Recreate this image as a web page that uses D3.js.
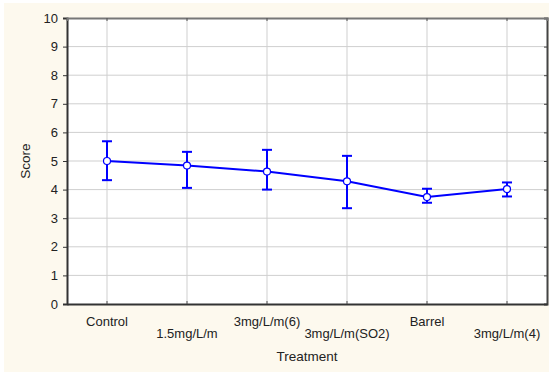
<!DOCTYPE html>
<html>
<head>
<meta charset="utf-8">
<script src="https://cdn.jsdelivr.net/npm/d3@7"></script>
<style>
    body { margin: 0; background: #ffffff; }
    text { font-family: "Liberation Sans", Arial, sans-serif; }
</style>
</head>
<body>
<svg id="chart" width="559" height="372"></svg>
<script>
const treatments = ["Control", "1.5mg/L/m", "3mg/L/m(6)", "3mg/L/m(SO2)", "Barrel", "3mg/L/m(4)"];
const means = [5.0, 4.84, 4.63, 4.29, 3.74, 4.02];
const upper = [5.69, 5.32, 5.39, 5.18, 4.03, 4.25];
const lower = [4.33, 4.06, 4.0, 3.35, 3.54, 3.76];
const yTicks = [0, 1, 2, 3, 4, 5, 6, 7, 8, 9, 10];

const width = 559;
const height = 372;
const margin = { top: 18, right: 12, bottom: 68, left: 67 };

const svg = d3.select("#chart");

// cream background panel
svg.append("rect")
    .attr("x", 4).attr("y", 3)
    .attr("width", 545).attr("height", 369)
    .attr("fill", "#fdf9ee");

const xScale = d3.scaleBand()
    .domain(treatments)
    .range([margin.left, width - margin.right]);

const yScale = d3.scaleLinear()
    .domain([0, 10])
    .range([height - margin.bottom, margin.top]);

const x = function (d) { return xScale(d) + xScale.bandwidth() / 2; };

// plot area
svg.append("rect")
    .attr("x", margin.left)
    .attr("y", margin.top)
    .attr("width", width - margin.right - margin.left)
    .attr("height", height - margin.bottom - margin.top)
    .attr("fill", "#ffffff");

// grid
svg.append("g")
    .selectAll("line")
    .data(yTicks.slice(1, -1))
    .join("line")
    .attr("x1", margin.left).attr("x2", width - margin.right)
    .attr("y1", function (d) { return yScale(d); })
    .attr("y2", function (d) { return yScale(d); })
    .attr("stroke", "#cfcfcf");

svg.append("g")
    .selectAll("line")
    .data(treatments)
    .join("line")
    .attr("x1", x).attr("x2", x)
    .attr("y1", margin.top).attr("y2", height - margin.bottom)
    .attr("stroke", "#cfcfcf");

// left axis
const yAxis = svg.append("g")
    .attr("transform", `translate(${margin.left}, 0)`)
    .call(d3.axisLeft(yScale).tickValues(yTicks).tickSize(4).tickPadding(5));
yAxis.select(".domain").attr("stroke", "#333").attr("stroke-width", 2);
yAxis.selectAll(".tick line").attr("stroke", "#333");
yAxis.selectAll("text").attr("font-size", 13).attr("fill", "#222");

// right axis with inward ticks
const rAxis = svg.append("g")
    .attr("transform", `translate(${width - margin.right}, 0)`)
    .call(d3.axisLeft(yScale).tickValues(yTicks).tickSize(3).tickFormat(""));
rAxis.select(".domain").attr("stroke", "#444").attr("stroke-width", 2);
rAxis.selectAll(".tick line").attr("stroke", "#444");

// top axis with inward ticks
const tAxis = svg.append("g")
    .attr("transform", `translate(0, ${margin.top})`)
    .call(d3.axisBottom(xScale).tickSize(3).tickFormat(""));
tAxis.select(".domain").attr("stroke", "#777").attr("stroke-width", 2);
tAxis.selectAll(".tick line").attr("stroke", "#555");

// bottom axis
const xAxis = svg.append("g")
    .attr("transform", `translate(0, ${height - margin.bottom})`)
    .call(d3.axisBottom(xScale).tickSize(-3).tickSizeOuter(0).tickFormat(""));
xAxis.select(".domain").attr("stroke", "#333").attr("stroke-width", 2);
xAxis.selectAll(".tick line").attr("stroke", "#555");

// staggered category labels
svg.append("g")
    .selectAll("text")
    .data(treatments)
    .join("text")
    .attr("x", x)
    .attr("y", function (d, i) { return i % 2 === 0 ? 326 : 338; })
    .attr("text-anchor", "middle")
    .attr("font-size", 13)
    .attr("fill", "#222")
    .text(function (d) { return d; });

// axis titles
svg.append("text")
    .attr("x", (margin.left + width - margin.right) / 2)
    .attr("y", 361)
    .attr("text-anchor", "middle")
    .attr("font-size", 13.5)
    .attr("fill", "#222")
    .text("Treatment");

svg.append("text")
    .attr("transform", `translate(30, ${yScale(5)}) rotate(-90)`)
    .attr("text-anchor", "middle")
    .attr("font-size", 13.5)
    .attr("fill", "#222")
    .text("Score");

// error bars
const bars = svg.append("g")
    .attr("stroke", "#0000ff")
    .attr("stroke-width", 2);

bars.selectAll(".whisker")
    .data(treatments)
    .join("line")
    .attr("x1", x).attr("x2", x)
    .attr("y1", function (d, i) { return yScale(upper[i]); })
    .attr("y2", function (d, i) { return yScale(lower[i]); });

bars.selectAll(".cap-top")
    .data(treatments)
    .join("line")
    .attr("class", "cap-top")
    .attr("x1", function (d) { return x(d) - 5; })
    .attr("x2", function (d) { return x(d) + 5; })
    .attr("y1", function (d, i) { return yScale(upper[i]); })
    .attr("y2", function (d, i) { return yScale(upper[i]); });

bars.selectAll(".cap-bottom")
    .data(treatments)
    .join("line")
    .attr("class", "cap-bottom")
    .attr("x1", function (d) { return x(d) - 5; })
    .attr("x2", function (d) { return x(d) + 5; })
    .attr("y1", function (d, i) { return yScale(lower[i]); })
    .attr("y2", function (d, i) { return yScale(lower[i]); });

// mean line
svg.append("path")
    .datum(treatments)
    .attr("fill", "none")
    .attr("stroke", "#0000ff")
    .attr("stroke-width", 2)
    .attr("d", d3.line()
        .x(function (d) { return x(d); })
        .y(function (d, i) { return yScale(means[i]); })
    );

// markers
svg.append("g")
    .selectAll("circle")
    .data(treatments)
    .join("circle")
    .attr("cx", x)
    .attr("cy", function (d, i) { return yScale(means[i]); })
    .attr("r", 3.5)
    .attr("fill", "#ffffff")
    .attr("stroke", "#0000ff")
    .attr("stroke-width", 1.2);
</script>
</body>
</html>
